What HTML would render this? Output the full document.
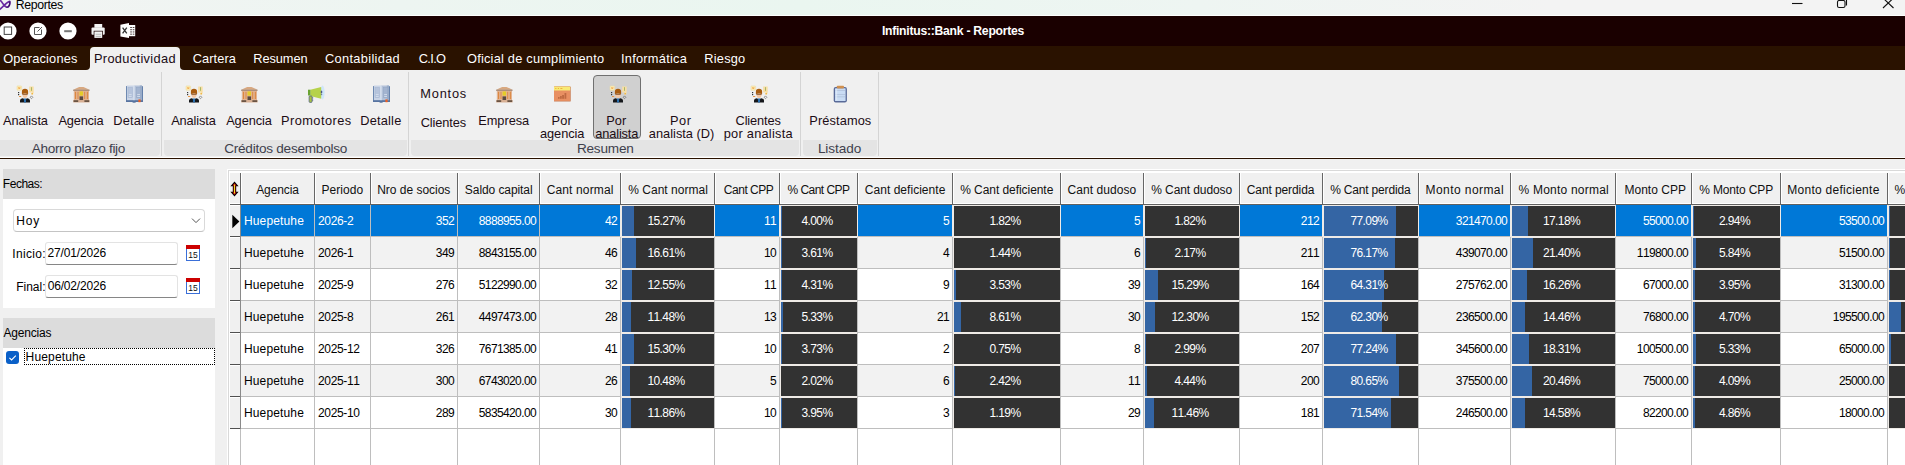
<!DOCTYPE html>
<html lang="es"><head><meta charset="utf-8"><title>Reportes</title>
<style>
html,body{margin:0;padding:0}
body{width:1905px;height:465px;overflow:hidden;background:#f0f0f0;font-family:"Liberation Sans",sans-serif;font-size:12px;color:#000;position:relative}
div,span,svg{position:absolute;box-sizing:border-box}
.t{white-space:nowrap;font-kerning:none;line-height:16px;height:16px}
.c{text-align:center}
.r{text-align:right}
/* title */
#titlebar{left:0;top:0;width:1905px;height:16px;background:linear-gradient(90deg,#f2f4f3 0,#edf5f1 400px,#eaf6f0 800px,#eef5f2 1200px,#f3f3f3 1550px)}
#titleline{left:0;top:15px;width:1905px;height:1px;background:#fdfffe}
#darkbar{left:0;top:16px;width:1905px;height:30px;background:#1a0000}
#tabbar{left:0;top:46px;width:1905px;height:24px;background:#2a1200}
.tab{font-size:13.3px;color:#fff;top:50px}
#activetab{left:90px;top:47px;width:90px;height:23px;background:#f0f0f0;border-radius:4px 4px 0 0}
.tabc{width:4px;height:4px;top:66px;background:#f0f0f0}
.tabc i{position:absolute;left:0;top:0;width:4px;height:4px;background:#2a1200;display:block}
/* ribbon */
#ribbon{left:0;top:70px;width:1905px;height:87px;background:#f0f0f0}
.band{top:140px;height:16px;background:#e4e4e4;border-radius:0 0 4px 4px}
.gl{top:140px;font-size:13.3px;color:#444;}
.vsep{top:72px;width:1px;height:84px;background:#d4d4d4}
.rb{font-size:13.3px;color:#1a0a14}
#ribline1{left:0;top:157px;width:1905px;height:1px;background:#fff}
#ribline2{left:0;top:158px;width:1905px;height:1px;background:#2a1200}
#selbtn{left:593px;top:75px;width:48px;height:64px;background:#d0d0d0;border:1px solid #707070;border-radius:4px}
/* left panel */
.hdr{left:3px;width:212px;background:#dcdcdc}
.white{left:3px;width:212px;background:#fff}
.inp{background:#fff;border:1px solid #e3e3e3;border-bottom:1px solid #868686;border-radius:3px}
/* grid */
#grid{left:228px;top:170px;width:1677px;height:295px;background:#fff;overflow:hidden}
.hc{top:1px;height:34px;background:#f0f0f0}
.hv{top:3px;width:1px;height:32px;background:#666}
.hw{top:3px;width:1px;height:31px;background:#fff}
.ht{top:12px;font-size:12px;color:#101010}
.vl{top:35px;width:1px;height:260px;background:#bebebe}
.hl{left:13px;height:1px;width:1664px;background:#bebebe}
.rowbg{left:13px;width:1664px;height:31px}
.n{letter-spacing:-0.62px}
.cell{font-kerning:none;font-size:12px;line-height:16px;height:16px;white-space:nowrap}
.pg{height:32px;background:#efebe7}
.pb{background:#323232;height:30px;overflow:hidden}
.pf{left:0;top:0;height:30px;background:#3465a4}
.pt{letter-spacing:-0.62px;font-kerning:none;left:-2px;top:7px;width:100%;text-align:center;color:#fff;font-size:12px;line-height:16px;white-space:nowrap}
.rh{left:1px;width:11px;background:#f0f0f0;border-left:1px solid #fff;border-top:1px solid #fff}
</style></head>
<body>
<div id="titlebar"></div><div id="titleline"></div>
<svg style="left:0;top:0" width="12" height="12" viewBox="0 0 12 12"><path d="M-1 -0.5C2 0.5 3.6 6.6 6.6 7.2C9.4 7.6 10.2 3.6 9.7 1.3C6.6 1.8 3.4 6.4 -1 10" fill="none" stroke="#6a2aa2" stroke-width="1.7" stroke-linejoin="round"/><path d="M9.7 1.3C10.2 3.6 9.4 7.6 6.6 7.2" fill="none" stroke="#3d1466" stroke-width="1.2"/></svg>
<span class="t " style="left:15.69px;top:-3px;font-size:12.3px;letter-spacing:-0.351px;color:#000">Reportes</span>
<svg style="left:1785px;top:0" width="120" height="12" viewBox="0 0 120 12" fill="none" stroke="#111" stroke-width="1.1"><path d="M7 3.5H17.5"/><rect x="52.5" y="0.5" width="7.5" height="7" rx="1.6"/><path d="M55 -1H60Q61.5 -1 61.5 0.5V5.5"/><path d="M98 -2L108.5 8M108.5 -2L98 8"/></svg>
<div id="darkbar"></div>
<svg style="left:0;top:20px" width="140" height="22" viewBox="0 20 140 22">
<circle cx="8" cy="31" r="8.6" fill="#fff"/><rect x="4.2" y="27" width="7.4" height="7.4" fill="none" stroke="#444" stroke-width="1"/>
<circle cx="38" cy="31" r="8.6" fill="#fff"/><path d="M39.5 27.5H34.5V34.5H41.5V29.5" fill="none" stroke="#555" stroke-width="1"/><path d="M37.5 31.5L42 27" stroke="#555" stroke-width="1"/>
<circle cx="68" cy="31" r="8.6" fill="#fff"/><rect x="64.2" y="30.2" width="7.6" height="2" fill="#777"/>
<rect x="94.4" y="24" width="7.8" height="3.8" fill="#f4f4f4"/><rect x="91.5" y="27.6" width="13.2" height="7.2" rx="1" fill="#f2f2f2"/><rect x="93.7" y="30.8" width="9.2" height="4.2" fill="#1a0000"/><rect x="94.4" y="31.5" width="7.8" height="6.4" fill="#f4f4f4"/><rect x="95.6" y="33.8" width="5.5" height="0.8" fill="#aaa"/><rect x="95.6" y="35.9" width="5.5" height="0.8" fill="#aaa"/>
<path d="M120.4 24.7L129 23V37.9L120.4 36.5Z" fill="#fff"/><rect x="129" y="25" width="6.2" height="11.2" fill="#fff"/><g fill="#3a2828"><rect x="130.2" y="27.1" width="1.7" height="0.9"/><rect x="132.7" y="27.1" width="1.7" height="0.9"/><rect x="130.2" y="29.3" width="1.7" height="0.9"/><rect x="132.7" y="29.3" width="1.7" height="0.9"/><rect x="130.2" y="31.5" width="1.7" height="0.9"/><rect x="132.7" y="31.5" width="1.7" height="0.9"/><rect x="130.2" y="33.7" width="1.7" height="0.9"/><rect x="132.7" y="33.7" width="1.7" height="0.9"/></g><path d="M122.6 27.6L126.8 33.4M126.8 27.6L122.6 33.4" stroke="#333" stroke-width="1.3"/>
</svg>
<span class="t " style="left:881.88px;top:23px;font-size:12.2px;letter-spacing:-0.260px;color:#fff;font-weight:bold">Infinitus::Bank - Reportes</span>
<div id="tabbar"></div><div id="activetab"></div>
<div class="tabc" style="left:86px"><i style="border-radius:0 0 4px 0"></i></div><div class="tabc" style="left:180px"><i style="border-radius:0 0 0 4px"></i></div>
<span class="t " style="left:3.19px;top:51px;font-size:12.8px;letter-spacing:0.159px;color:#fff">Operaciones</span>
<span class="t " style="left:93.95px;top:51px;font-size:12.8px;letter-spacing:0.335px;color:#1a0a14">Productividad</span>
<span class="t " style="left:192.75px;top:51px;font-size:12.8px;letter-spacing:0.078px;color:#fff">Cartera</span>
<span class="t " style="left:253.25px;top:51px;font-size:12.8px;letter-spacing:-0.067px;color:#fff">Resumen</span>
<span class="t " style="left:325.05px;top:51px;font-size:12.8px;letter-spacing:0.319px;color:#fff">Contabilidad</span>
<span class="t " style="left:418.75px;top:51px;font-size:12.8px;letter-spacing:-0.652px;color:#fff">C.I.O</span>
<span class="t " style="left:466.99px;top:51px;font-size:12.8px;letter-spacing:0.219px;color:#fff">Oficial de cumplimiento</span>
<span class="t " style="left:621.02px;top:51px;font-size:12.8px;letter-spacing:0.247px;color:#fff">Informática</span>
<span class="t " style="left:704.35px;top:51px;font-size:12.8px;letter-spacing:0.209px;color:#fff">Riesgo</span>
<div id="ribbon"></div>
<div class="band" style="left:-4px;width:164px"></div><span class="t " style="left:31.77px;top:141px;font-size:13.6px;letter-spacing:-0.286px;color:#40404c">Ahorro plazo fijo</span>
<div class="band" style="left:164px;width:243px"></div><span class="t " style="left:224.21px;top:141px;font-size:13.6px;letter-spacing:-0.255px;color:#40404c">Créditos desembolso</span>
<div class="band" style="left:411px;width:388px"></div><span class="t " style="left:576.88px;top:141px;font-size:13.6px;letter-spacing:-0.201px;color:#40404c">Resumen</span>
<div class="band" style="left:803px;width:74px"></div><span class="t " style="left:817.88px;top:141px;font-size:13.6px;letter-spacing:-0.078px;color:#40404c">Listado</span>
<div class="vsep" style="left:161px"></div><div class="vsep" style="left:408px"></div><div class="vsep" style="left:800px"></div><div class="vsep" style="left:878px"></div>
<div id="selbtn"></div>
<div id="ribline1"></div><div id="ribline2"></div>
<svg style="left:16px;top:85px" width="20" height="18" viewBox="0 0 20 18">
<rect x="1" y="0.9" width="4.6" height="4.4" rx="0.6" fill="#fbeab4" stroke="#ecdca0" stroke-width="0.5"/><path d="M2.4 2.2L4.2 4M4.2 2.2L2.4 4" stroke="#f0a040" stroke-width="0.8"/>
<path d="M13.2 1.4H17.7V7.4L17 9.6H15.4L16 7.4H13.2Z" fill="#f8dea4"/><rect x="15" y="2.2" width="1" height="3.6" fill="#a8b868"/><rect x="15.4" y="8" width="1.6" height="1.4" fill="#f0b848"/>
<rect x="2" y="7" width="1.2" height="1.2" fill="#333"/><rect x="2" y="9" width="1.2" height="1.2" fill="#333"/><rect x="3" y="11" width="2.2" height="0.9" fill="#e89038"/>
<path d="M6.5 8.6H11.5V10.6Q11.5 13 9 13Q6.5 13 6.5 10.6Z" fill="#f5c8a4"/>
<path d="M5.9 9V6.4Q5.9 3.7 9 3.7Q12.1 3.7 12.1 6.4V9Q9 8 5.9 9Z" fill="#a85c10"/>
<path d="M6.3 9.4H11.7" stroke="#6a3a10" stroke-width="0.7"/>
<path d="M4 17.4V15.6Q4 13.6 6.6 13.2L9 14.2L11.4 13.2Q14 13.6 14 15.6V17.4Z" fill="#15171a"/>
<path d="M7.8 13.6H10.2L9.9 17.4H8.1Z" fill="#2a70b0"/>
<path d="M15.5 10.9L16.9 12.3L15.5 13.7L14.1 12.3Z" fill="none" stroke="#555" stroke-width="0.6"/>
</svg>
<span class="t " style="left:3.08px;top:113px;font-size:12.8px;letter-spacing:-0.088px;color:#1c0c14">Analista</span>
<svg style="left:73px;top:85px" width="18" height="18" viewBox="0 0 18 18">
<path d="M6.1 1.9H10.5L16.5 4.7H0.2Z" fill="#d8a880"/><rect x="0.2" y="4.7" width="16.3" height="1.1" fill="#8f6f58"/>
<rect x="0.8" y="5.8" width="15.2" height="9.2" fill="#e2b494"/>
<g fill="#dc8840"><rect x="2" y="6.8" width="1.1" height="7.2"/><rect x="4.5" y="6.8" width="1" height="7.2"/><rect x="11.2" y="6.8" width="1" height="7.2"/><rect x="13.8" y="6.8" width="1.1" height="7.2"/></g>
<rect x="6.5" y="6.4" width="3.6" height="4.2" fill="#e4cc28"/><rect x="6.5" y="11.4" width="3.6" height="3.6" fill="#5a4a40"/>
<rect x="0.2" y="15" width="16.4" height="2.4" rx="0.5" fill="#d8b094"/><rect x="0.6" y="15.2" width="4.6" height="1.8" fill="#6a5444"/><rect x="11.4" y="15.2" width="4.8" height="1.8" fill="#6a5444"/>
</svg>
<span class="t " style="left:58.38px;top:113px;font-size:12.8px;letter-spacing:-0.172px;color:#1c0c14">Agencia</span>
<svg style="left:126px;top:85px" width="18" height="18" viewBox="0 0 18 18">
<rect x="-0.1" y="1" width="17.1" height="15.9" rx="0.8" fill="#6480ab"/>
<rect x="0.9" y="0.5" width="7.1" height="14.9" fill="#c9d4e6"/><rect x="8" y="0.5" width="8" height="14.9" fill="#b2c0d8"/><rect x="13.8" y="0.5" width="2.2" height="14.9" fill="#9aadc9"/>
<rect x="7.5" y="0.5" width="1.1" height="15.2" fill="#dde5f1"/>
<rect x="2" y="2.4" width="4.4" height="10.2" fill="#b6c4dc" stroke="#a3b4d0" stroke-width="0.5"/><rect x="10.4" y="2.4" width="4.4" height="10.2" fill="#a3b4d0" stroke="#91a5c4" stroke-width="0.5"/>
<g fill="#d8e1ef"><rect x="2.8" y="9" width="2.8" height="0.8"/><rect x="2.8" y="11" width="2.8" height="0.8"/><rect x="11.2" y="9" width="2.8" height="0.8"/><rect x="11.2" y="11" width="2.8" height="0.8"/></g>
<rect x="-0.1" y="15.4" width="17.1" height="1.5" fill="#56729f"/><rect x="6.6" y="16.6" width="3" height="1.1" fill="#56729f"/>
<rect x="12.4" y="14.4" width="2.2" height="2.8" fill="#f06020"/>
</svg>
<span class="t " style="left:113.25px;top:113px;font-size:12.8px;letter-spacing:0.196px;color:#1c0c14">Detalle</span>
<svg style="left:185px;top:85px" width="20" height="18" viewBox="0 0 20 18">
<rect x="1" y="0.9" width="4.6" height="4.4" rx="0.6" fill="#fbeab4" stroke="#ecdca0" stroke-width="0.5"/><path d="M2.4 2.2L4.2 4M4.2 2.2L2.4 4" stroke="#f0a040" stroke-width="0.8"/>
<path d="M13.2 1.4H17.7V7.4L17 9.6H15.4L16 7.4H13.2Z" fill="#f8dea4"/><rect x="15" y="2.2" width="1" height="3.6" fill="#a8b868"/><rect x="15.4" y="8" width="1.6" height="1.4" fill="#f0b848"/>
<rect x="2" y="7" width="1.2" height="1.2" fill="#333"/><rect x="2" y="9" width="1.2" height="1.2" fill="#333"/><rect x="3" y="11" width="2.2" height="0.9" fill="#e89038"/>
<path d="M6.5 8.6H11.5V10.6Q11.5 13 9 13Q6.5 13 6.5 10.6Z" fill="#f5c8a4"/>
<path d="M5.9 9V6.4Q5.9 3.7 9 3.7Q12.1 3.7 12.1 6.4V9Q9 8 5.9 9Z" fill="#a85c10"/>
<path d="M6.3 9.4H11.7" stroke="#6a3a10" stroke-width="0.7"/>
<path d="M4 17.4V15.6Q4 13.6 6.6 13.2L9 14.2L11.4 13.2Q14 13.6 14 15.6V17.4Z" fill="#15171a"/>
<path d="M7.8 13.6H10.2L9.9 17.4H8.1Z" fill="#2a70b0"/>
<path d="M15.5 10.9L16.9 12.3L15.5 13.7L14.1 12.3Z" fill="none" stroke="#555" stroke-width="0.6"/>
</svg>
<span class="t " style="left:171.17px;top:113px;font-size:12.8px;letter-spacing:-0.130px;color:#1c0c14">Analista</span>
<svg style="left:241px;top:85px" width="18" height="18" viewBox="0 0 18 18">
<path d="M6.1 1.9H10.5L16.5 4.7H0.2Z" fill="#d8a880"/><rect x="0.2" y="4.7" width="16.3" height="1.1" fill="#8f6f58"/>
<rect x="0.8" y="5.8" width="15.2" height="9.2" fill="#e2b494"/>
<g fill="#dc8840"><rect x="2" y="6.8" width="1.1" height="7.2"/><rect x="4.5" y="6.8" width="1" height="7.2"/><rect x="11.2" y="6.8" width="1" height="7.2"/><rect x="13.8" y="6.8" width="1.1" height="7.2"/></g>
<rect x="6.5" y="6.4" width="3.6" height="4.2" fill="#e4cc28"/><rect x="6.5" y="11.4" width="3.6" height="3.6" fill="#5a4a40"/>
<rect x="0.2" y="15" width="16.4" height="2.4" rx="0.5" fill="#d8b094"/><rect x="0.6" y="15.2" width="4.6" height="1.8" fill="#6a5444"/><rect x="11.4" y="15.2" width="4.8" height="1.8" fill="#6a5444"/>
</svg>
<span class="t " style="left:226.17px;top:113px;font-size:12.8px;letter-spacing:-0.089px;color:#1c0c14">Agencia</span>
<svg style="left:307px;top:85px" width="19" height="18" viewBox="0 0 19 18">
<ellipse cx="15.5" cy="7.6" rx="2.1" ry="7" fill="#cfe6fa"/>
<path d="M3.3 4.7L14.2 1.9V13.8L3.3 11Z" fill="#b6d24a"/><rect x="1" y="4.7" width="2.4" height="5.8" fill="#6aa432"/>
<rect x="2.1" y="11" width="3" height="6.4" rx="0.8" fill="#a8c244" stroke="#4a5a84" stroke-width="0.7"/><rect x="5.2" y="12.4" width="1" height="1" fill="#4a5a84"/><rect x="5.2" y="14.6" width="1" height="1" fill="#4a5a84"/>
<ellipse cx="14.5" cy="7" rx="0.8" ry="1.5" fill="#4a5a84"/><rect x="13.8" y="9.3" width="1.4" height="0.8" fill="#4a5a84"/>
</svg>
<span class="t " style="left:280.95px;top:113px;font-size:12.8px;letter-spacing:0.451px;color:#1c0c14">Promotores</span>
<svg style="left:373px;top:85px" width="18" height="18" viewBox="0 0 18 18">
<rect x="-0.1" y="1" width="17.1" height="15.9" rx="0.8" fill="#6480ab"/>
<rect x="0.9" y="0.5" width="7.1" height="14.9" fill="#c9d4e6"/><rect x="8" y="0.5" width="8" height="14.9" fill="#b2c0d8"/><rect x="13.8" y="0.5" width="2.2" height="14.9" fill="#9aadc9"/>
<rect x="7.5" y="0.5" width="1.1" height="15.2" fill="#dde5f1"/>
<rect x="2" y="2.4" width="4.4" height="10.2" fill="#b6c4dc" stroke="#a3b4d0" stroke-width="0.5"/><rect x="10.4" y="2.4" width="4.4" height="10.2" fill="#a3b4d0" stroke="#91a5c4" stroke-width="0.5"/>
<g fill="#d8e1ef"><rect x="2.8" y="9" width="2.8" height="0.8"/><rect x="2.8" y="11" width="2.8" height="0.8"/><rect x="11.2" y="9" width="2.8" height="0.8"/><rect x="11.2" y="11" width="2.8" height="0.8"/></g>
<rect x="-0.1" y="15.4" width="17.1" height="1.5" fill="#56729f"/><rect x="6.6" y="16.6" width="3" height="1.1" fill="#56729f"/>
<rect x="12.4" y="14.4" width="2.2" height="2.8" fill="#f06020"/>
</svg>
<span class="t " style="left:360.35px;top:113px;font-size:12.8px;letter-spacing:0.179px;color:#1c0c14">Detalle</span>
<svg style="left:496px;top:85px" width="18" height="18" viewBox="0 0 18 18">
<path d="M6.1 1.9H10.5L16.5 4.7H0.2Z" fill="#d8a880"/><rect x="0.2" y="4.7" width="16.3" height="1.1" fill="#8f6f58"/>
<rect x="0.8" y="5.8" width="15.2" height="9.2" fill="#e2b494"/>
<g fill="#dc8840"><rect x="2" y="6.8" width="1.1" height="7.2"/><rect x="4.5" y="6.8" width="1" height="7.2"/><rect x="11.2" y="6.8" width="1" height="7.2"/><rect x="13.8" y="6.8" width="1.1" height="7.2"/></g>
<rect x="6.5" y="6.4" width="3.6" height="4.2" fill="#e4cc28"/><rect x="6.5" y="11.4" width="3.6" height="3.6" fill="#5a4a40"/>
<rect x="0.2" y="15" width="16.4" height="2.4" rx="0.5" fill="#d8b094"/><rect x="0.6" y="15.2" width="4.6" height="1.8" fill="#6a5444"/><rect x="11.4" y="15.2" width="4.8" height="1.8" fill="#6a5444"/>
</svg>
<span class="t " style="left:478.25px;top:113px;font-size:12.8px;letter-spacing:-0.045px;color:#1c0c14">Empresa</span>
<svg style="left:554px;top:85px" width="18" height="18" viewBox="0 0 18 18">
<rect x="0" y="1.6" width="16.7" height="15" rx="0.6" fill="#c47a54"/><rect x="0" y="1.6" width="16.1" height="14.3" fill="#e88f62"/><rect x="0" y="1.6" width="16.2" height="3.9" fill="#f8ea74"/>
<g fill="#f0b040"><rect x="1.2" y="3" width="1.2" height="1"/><rect x="3.8" y="3" width="1.2" height="1"/><rect x="6.4" y="3" width="2" height="1"/></g>
<g fill="#bf6a42"><rect x="4" y="12" width="1.6" height="1.8"/><rect x="6" y="11" width="1.8" height="2.8"/><rect x="8.1" y="10" width="1.9" height="3.8"/><rect x="10.5" y="8" width="1.8" height="5.8"/></g>
</svg>
<span class="t " style="left:551.55px;top:113px;font-size:12.8px;letter-spacing:0.172px;color:#1c0c14">Por</span><span class="t " style="left:539.96px;top:126px;font-size:12.8px;letter-spacing:-0.049px;color:#1c0c14">agencia</span>
<svg style="left:609px;top:85px" width="20" height="18" viewBox="0 0 20 18">
<rect x="1" y="0.9" width="4.6" height="4.4" rx="0.6" fill="#fbeab4" stroke="#ecdca0" stroke-width="0.5"/><path d="M2.4 2.2L4.2 4M4.2 2.2L2.4 4" stroke="#f0a040" stroke-width="0.8"/>
<path d="M13.2 1.4H17.7V7.4L17 9.6H15.4L16 7.4H13.2Z" fill="#f8dea4"/><rect x="15" y="2.2" width="1" height="3.6" fill="#a8b868"/><rect x="15.4" y="8" width="1.6" height="1.4" fill="#f0b848"/>
<rect x="2" y="7" width="1.2" height="1.2" fill="#333"/><rect x="2" y="9" width="1.2" height="1.2" fill="#333"/><rect x="3" y="11" width="2.2" height="0.9" fill="#e89038"/>
<path d="M6.5 8.6H11.5V10.6Q11.5 13 9 13Q6.5 13 6.5 10.6Z" fill="#f5c8a4"/>
<path d="M5.9 9V6.4Q5.9 3.7 9 3.7Q12.1 3.7 12.1 6.4V9Q9 8 5.9 9Z" fill="#a85c10"/>
<path d="M6.3 9.4H11.7" stroke="#6a3a10" stroke-width="0.7"/>
<path d="M4 17.4V15.6Q4 13.6 6.6 13.2L9 14.2L11.4 13.2Q14 13.6 14 15.6V17.4Z" fill="#15171a"/>
<path d="M7.8 13.6H10.2L9.9 17.4H8.1Z" fill="#2a70b0"/>
<path d="M15.5 10.9L16.9 12.3L15.5 13.7L14.1 12.3Z" fill="none" stroke="#555" stroke-width="0.6"/>
</svg>
<span class="t " style="left:606.35px;top:113px;font-size:12.8px;letter-spacing:-0.028px;color:#1c0c14">Por</span><span class="t " style="left:595.26px;top:126px;font-size:12.8px;letter-spacing:-0.139px;color:#1c0c14">analista</span>
<span class="t " style="left:669.95px;top:113px;font-size:12.8px;letter-spacing:0.522px;color:#1c0c14">Por</span><span class="t " style="left:648.76px;top:126px;font-size:12.8px;letter-spacing:0.018px;color:#1c0c14">analista (D)</span>
<svg style="left:750px;top:85px" width="20" height="18" viewBox="0 0 20 18">
<rect x="1" y="0.9" width="4.6" height="4.4" rx="0.6" fill="#fbeab4" stroke="#ecdca0" stroke-width="0.5"/><path d="M2.4 2.2L4.2 4M4.2 2.2L2.4 4" stroke="#f0a040" stroke-width="0.8"/>
<path d="M13.2 1.4H17.7V7.4L17 9.6H15.4L16 7.4H13.2Z" fill="#f8dea4"/><rect x="15" y="2.2" width="1" height="3.6" fill="#a8b868"/><rect x="15.4" y="8" width="1.6" height="1.4" fill="#f0b848"/>
<rect x="2" y="7" width="1.2" height="1.2" fill="#333"/><rect x="2" y="9" width="1.2" height="1.2" fill="#333"/><rect x="3" y="11" width="2.2" height="0.9" fill="#e89038"/>
<path d="M6.5 8.6H11.5V10.6Q11.5 13 9 13Q6.5 13 6.5 10.6Z" fill="#f5c8a4"/>
<path d="M5.9 9V6.4Q5.9 3.7 9 3.7Q12.1 3.7 12.1 6.4V9Q9 8 5.9 9Z" fill="#a85c10"/>
<path d="M6.3 9.4H11.7" stroke="#6a3a10" stroke-width="0.7"/>
<path d="M4 17.4V15.6Q4 13.6 6.6 13.2L9 14.2L11.4 13.2Q14 13.6 14 15.6V17.4Z" fill="#15171a"/>
<path d="M7.8 13.6H10.2L9.9 17.4H8.1Z" fill="#2a70b0"/>
<path d="M15.5 10.9L16.9 12.3L15.5 13.7L14.1 12.3Z" fill="none" stroke="#555" stroke-width="0.6"/>
</svg>
<span class="t " style="left:735.55px;top:113px;font-size:12.8px;letter-spacing:-0.133px;color:#1c0c14">Clientes</span><span class="t " style="left:723.77px;top:126px;font-size:12.8px;letter-spacing:0.241px;color:#1c0c14">por analista</span>
<svg style="left:833px;top:85px" width="15" height="18" viewBox="0 0 15 18">
<rect x="0.7" y="1.9" width="13.2" height="15.5" rx="2" fill="#596a98"/><rect x="2" y="3.2" width="10.6" height="12.8" rx="0.6" fill="#c9dcf4"/>
<rect x="3.8" y="0.8" width="7.2" height="2.6" rx="0.8" fill="#cf9050"/>
<g fill="#a9b9d3"><rect x="2.6" y="5.3" width="9.4" height="0.6"/><rect x="2.6" y="9.1" width="9.4" height="0.6"/><rect x="2.6" y="11.6" width="9.4" height="0.6"/></g><rect x="3.4" y="4" width="0.7" height="11.4" fill="#e6effb"/>
</svg>
<span class="t " style="left:809.35px;top:113px;font-size:12.8px;letter-spacing:0.092px;color:#1c0c14">Préstamos</span>
<span class="t " style="left:420.25px;top:86px;font-size:12.8px;letter-spacing:0.807px;color:#1c0c14">Montos</span><span class="t " style="left:420.65px;top:115px;font-size:12.8px;letter-spacing:-0.090px;color:#1c0c14">Clientes</span>
<div class="hdr" style="top:169px;height:30px"></div><div class="white" style="top:199px;height:109px"></div>
<span class="t " style="left:2.82px;top:176px;font-size:12px;letter-spacing:-0.468px;color:#000">Fechas:</span>
<div class="inp" style="left:13px;top:209px;width:192px;height:23px;border-color:#d9d9d9;border-bottom-color:#c4c4c4;border-radius:4px"></div><span class="t " style="left:16.22px;top:213px;font-size:12px;letter-spacing:0.834px;color:#000">Hoy</span>
<svg style="left:190px;top:216px" width="12" height="9" viewBox="0 0 12 9"><path d="M2 2.6L6 6.6L10 2.6" fill="none" stroke="#555" stroke-width="1"/></svg>
<span class="t " style="left:12.29px;top:246px;font-size:12px;letter-spacing:0.309px;color:#000">Inicio:</span><div class="inp" style="left:45px;top:242px;width:133px;height:23px"></div><span class="t " style="left:47.50px;top:245px;font-size:12px;letter-spacing:-0.148px;color:#000">27/01/2026</span><svg style="left:186px;top:245px" width="14" height="16" viewBox="0 0 14 16"><rect x="0.5" y="0.5" width="13" height="15" fill="#fff" stroke="#3a6fd8"/><rect x="0" y="0" width="14" height="4" fill="#c00"/><text x="7" y="13" font-family="Liberation Sans, sans-serif" font-size="8.5" text-anchor="middle" fill="#111">15</text></svg>
<span class="t " style="left:16.22px;top:279px;font-size:12px;letter-spacing:-0.013px;color:#000">Final:</span><div class="inp" style="left:45px;top:275px;width:133px;height:23px"></div><span class="t " style="left:47.63px;top:278px;font-size:12px;letter-spacing:-0.162px;color:#000">06/02/2026</span><svg style="left:186px;top:278px" width="14" height="16" viewBox="0 0 14 16"><rect x="0.5" y="0.5" width="13" height="15" fill="#fff" stroke="#3a6fd8"/><rect x="0" y="0" width="14" height="4" fill="#c00"/><text x="7" y="13" font-family="Liberation Sans, sans-serif" font-size="8.5" text-anchor="middle" fill="#111">15</text></svg>
<div class="hdr" style="top:318px;height:30px"></div><div class="white" style="top:348px;height:117px"></div>
<span class="t " style="left:3.38px;top:325px;font-size:12px;letter-spacing:-0.187px;color:#000">Agencias</span>
<svg style="left:6px;top:351px" width="13" height="13" viewBox="0 0 13 13"><rect width="13" height="13" rx="3" fill="#0a60c8"/><path d="M3.4 6.8L5.6 9L9.8 4.6" fill="none" stroke="#fff" stroke-width="1.1"/></svg>
<div style="left:24px;top:348px;width:191px;height:17px;border:1px dotted #000"></div><span class="t " style="left:25.62px;top:349px;font-size:12px;letter-spacing:0.150px;color:#000">Huepetuhe</span>
<div style="left:227px;top:169px;width:1678px;height:1px;background:#fff"></div><div style="left:227px;top:169px;width:1px;height:296px;background:#fff"></div>
<div id="grid">
<div class="hc" style="left:1px;width:1676px"></div>
<div style="left:1px;top:1px;width:1676px;height:2px;background:#fff"></div><div style="left:1px;top:33px;width:1676px;height:1px;background:#fff"></div><div class="hv" style="left:12px"></div><div class="hw" style="left:13px"></div><div class="hv" style="left:86px"></div><div class="hw" style="left:87px"></div><div class="hv" style="left:142px"></div><div class="hw" style="left:143px"></div><div class="hv" style="left:229px"></div><div class="hw" style="left:230px"></div><div class="hv" style="left:311px"></div><div class="hw" style="left:312px"></div><div class="hv" style="left:392px"></div><div class="hw" style="left:393px"></div><div class="hv" style="left:486px"></div><div class="hw" style="left:487px"></div><div class="hv" style="left:551px"></div><div class="hw" style="left:552px"></div><div class="hv" style="left:629px"></div><div class="hw" style="left:630px"></div><div class="hv" style="left:724px"></div><div class="hw" style="left:725px"></div><div class="hv" style="left:832px"></div><div class="hw" style="left:833px"></div><div class="hv" style="left:915px"></div><div class="hw" style="left:916px"></div><div class="hv" style="left:1011px"></div><div class="hw" style="left:1012px"></div><div class="hv" style="left:1094px"></div><div class="hw" style="left:1095px"></div><div class="hv" style="left:1190px"></div><div class="hw" style="left:1191px"></div><div class="hv" style="left:1282px"></div><div class="hw" style="left:1283px"></div><div class="hv" style="left:1387px"></div><div class="hw" style="left:1388px"></div><div class="hv" style="left:1463px"></div><div class="hw" style="left:1464px"></div><div class="hv" style="left:1552px"></div><div class="hw" style="left:1553px"></div><div class="hv" style="left:1659px"></div><div class="hw" style="left:1660px"></div><div class="hv" style="left:1775px"></div><div class="hw" style="left:1776px"></div>
<div style="left:1px;top:34px;width:1676px;height:1px;background:#606060"></div>
<svg style="left:2px;top:11px" width="9" height="16" viewBox="0 0 9 16"><path d="M4.5 0.4L8.6 5.2H6.2V10.8H8.6L4.5 15.6L0.4 10.8H2.8V5.2H0.4Z" fill="#000"/><path d="M4.5 2.2L6.6 4.6H5.4V11.4H6.6L4.5 13.8L2.4 11.4H3.6V4.6H2.4Z" fill="#d01010"/><rect x="4" y="3.6" width="1" height="8.8" fill="#f0e020"/></svg>
<span class="t " style="left:28.18px;top:12px;font-size:12px;letter-spacing:-0.090px;color:#101010">Agencia</span><span class="t " style="left:93.52px;top:12px;font-size:12px;letter-spacing:0.054px;color:#101010">Periodo</span><span class="t " style="left:149.22px;top:12px;font-size:12px;letter-spacing:-0.021px;color:#101010">Nro de socios</span><span class="t " style="left:236.86px;top:12px;font-size:12px;letter-spacing:-0.080px;color:#101010">Saldo capital</span><span class="t " style="left:318.69px;top:12px;font-size:12px;letter-spacing:0.135px;color:#101010">Cant normal</span><span class="t " style="left:400.27px;top:12px;font-size:12px;letter-spacing:0.014px;color:#101010">% Cant normal</span><span class="t " style="left:495.79px;top:12px;font-size:12px;letter-spacing:-0.473px;color:#101010">Cant CPP</span><span class="t " style="left:559.47px;top:12px;font-size:12px;letter-spacing:-0.533px;color:#101010">% Cant CPP</span><span class="t " style="left:636.79px;top:12px;font-size:12px;letter-spacing:0.035px;color:#101010">Cant deficiente</span><span class="t " style="left:732.17px;top:12px;font-size:12px;letter-spacing:-0.056px;color:#101010">% Cant deficiente</span><span class="t " style="left:839.59px;top:12px;font-size:12px;letter-spacing:0.056px;color:#101010">Cant dudoso</span><span class="t " style="left:923.27px;top:12px;font-size:12px;letter-spacing:-0.094px;color:#101010">% Cant dudoso</span><span class="t " style="left:1018.79px;top:12px;font-size:12px;letter-spacing:-0.100px;color:#101010">Cant perdida</span><span class="t " style="left:1102.17px;top:12px;font-size:12px;letter-spacing:-0.176px;color:#101010">% Cant perdida</span><span class="t " style="left:1197.62px;top:12px;font-size:12px;letter-spacing:0.420px;color:#101010">Monto normal</span><span class="t " style="left:1290.57px;top:12px;font-size:12px;letter-spacing:0.212px;color:#101010">% Monto normal</span><span class="t " style="left:1396.42px;top:12px;font-size:12px;letter-spacing:0.032px;color:#101010">Monto CPP</span><span class="t " style="left:1471.17px;top:12px;font-size:12px;letter-spacing:-0.130px;color:#101010">% Monto CPP</span><span class="t " style="left:1559.32px;top:12px;font-size:12px;letter-spacing:0.264px;color:#101010">Monto deficiente</span><span class="t " style="left:1666.57px;top:12px;font-size:12px;letter-spacing:-0.006px;color:#101010">% Monto deficiente</span>
<div class="rowbg" style="top:35px;background:#0078d7"></div><div class="rh" style="top:35px;height:31px"></div><div style="left:1px;top:66px;width:12px;height:1px;background:#505050"></div><div class="hl" style="top:66px"></div>
<span class="cell" style="left:16px;top:43px;color:#fff;letter-spacing:0.14px">Huepetuhe</span><span class="cell" style="left:90px;top:43px;color:#fff;letter-spacing:-0.35px">2026-2</span><span class="cell r n" style="left:143px;top:43px;width:83px;color:#fff">352</span><span class="cell r n" style="left:230px;top:43px;width:78px;color:#fff">8888955.00</span><span class="cell r n" style="left:312px;top:43px;width:77px;color:#fff">42</span><span class="cell r n" style="left:487px;top:43px;width:61px;color:#fff">11</span><span class="cell r n" style="left:630px;top:43px;width:91px;color:#fff">5</span><span class="cell r n" style="left:833px;top:43px;width:79px;color:#fff">5</span><span class="cell r n" style="left:1012px;top:43px;width:79px;color:#fff">212</span><span class="cell r n" style="left:1191px;top:43px;width:88px;color:#fff">321470.00</span><span class="cell r n" style="left:1388px;top:43px;width:72px;color:#fff">55000.00</span><span class="cell r n" style="left:1553px;top:43px;width:103px;color:#fff">53500.00</span>
<div class="rowbg" style="top:67px;background:#f2f2f2"></div><div class="rh" style="top:67px;height:31px"></div><div style="left:1px;top:98px;width:12px;height:1px;background:#505050"></div><div class="hl" style="top:98px"></div>
<span class="cell" style="left:16px;top:75px;color:#000;letter-spacing:0.14px">Huepetuhe</span><span class="cell" style="left:90px;top:75px;color:#000;letter-spacing:-0.35px">2026-1</span><span class="cell r n" style="left:143px;top:75px;width:83px;color:#000">349</span><span class="cell r n" style="left:230px;top:75px;width:78px;color:#000">8843155.00</span><span class="cell r n" style="left:312px;top:75px;width:77px;color:#000">46</span><span class="cell r n" style="left:487px;top:75px;width:61px;color:#000">10</span><span class="cell r n" style="left:630px;top:75px;width:91px;color:#000">4</span><span class="cell r n" style="left:833px;top:75px;width:79px;color:#000">6</span><span class="cell r n" style="left:1012px;top:75px;width:79px;color:#000">211</span><span class="cell r n" style="left:1191px;top:75px;width:88px;color:#000">439070.00</span><span class="cell r n" style="left:1388px;top:75px;width:72px;color:#000">119800.00</span><span class="cell r n" style="left:1553px;top:75px;width:103px;color:#000">51500.00</span>
<div class="rowbg" style="top:99px;background:#fff"></div><div class="rh" style="top:99px;height:31px"></div><div style="left:1px;top:130px;width:12px;height:1px;background:#505050"></div><div class="hl" style="top:130px"></div>
<span class="cell" style="left:16px;top:107px;color:#000;letter-spacing:0.14px">Huepetuhe</span><span class="cell" style="left:90px;top:107px;color:#000;letter-spacing:-0.35px">2025-9</span><span class="cell r n" style="left:143px;top:107px;width:83px;color:#000">276</span><span class="cell r n" style="left:230px;top:107px;width:78px;color:#000">5122990.00</span><span class="cell r n" style="left:312px;top:107px;width:77px;color:#000">32</span><span class="cell r n" style="left:487px;top:107px;width:61px;color:#000">11</span><span class="cell r n" style="left:630px;top:107px;width:91px;color:#000">9</span><span class="cell r n" style="left:833px;top:107px;width:79px;color:#000">39</span><span class="cell r n" style="left:1012px;top:107px;width:79px;color:#000">164</span><span class="cell r n" style="left:1191px;top:107px;width:88px;color:#000">275762.00</span><span class="cell r n" style="left:1388px;top:107px;width:72px;color:#000">67000.00</span><span class="cell r n" style="left:1553px;top:107px;width:103px;color:#000">31300.00</span>
<div class="rowbg" style="top:131px;background:#f2f2f2"></div><div class="rh" style="top:131px;height:31px"></div><div style="left:1px;top:162px;width:12px;height:1px;background:#505050"></div><div class="hl" style="top:162px"></div>
<span class="cell" style="left:16px;top:139px;color:#000;letter-spacing:0.14px">Huepetuhe</span><span class="cell" style="left:90px;top:139px;color:#000;letter-spacing:-0.35px">2025-8</span><span class="cell r n" style="left:143px;top:139px;width:83px;color:#000">261</span><span class="cell r n" style="left:230px;top:139px;width:78px;color:#000">4497473.00</span><span class="cell r n" style="left:312px;top:139px;width:77px;color:#000">28</span><span class="cell r n" style="left:487px;top:139px;width:61px;color:#000">13</span><span class="cell r n" style="left:630px;top:139px;width:91px;color:#000">21</span><span class="cell r n" style="left:833px;top:139px;width:79px;color:#000">30</span><span class="cell r n" style="left:1012px;top:139px;width:79px;color:#000">152</span><span class="cell r n" style="left:1191px;top:139px;width:88px;color:#000">236500.00</span><span class="cell r n" style="left:1388px;top:139px;width:72px;color:#000">76800.00</span><span class="cell r n" style="left:1553px;top:139px;width:103px;color:#000">195500.00</span>
<div class="rowbg" style="top:163px;background:#fff"></div><div class="rh" style="top:163px;height:31px"></div><div style="left:1px;top:194px;width:12px;height:1px;background:#505050"></div><div class="hl" style="top:194px"></div>
<span class="cell" style="left:16px;top:171px;color:#000;letter-spacing:0.14px">Huepetuhe</span><span class="cell" style="left:90px;top:171px;color:#000;letter-spacing:-0.35px">2025-12</span><span class="cell r n" style="left:143px;top:171px;width:83px;color:#000">326</span><span class="cell r n" style="left:230px;top:171px;width:78px;color:#000">7671385.00</span><span class="cell r n" style="left:312px;top:171px;width:77px;color:#000">41</span><span class="cell r n" style="left:487px;top:171px;width:61px;color:#000">10</span><span class="cell r n" style="left:630px;top:171px;width:91px;color:#000">2</span><span class="cell r n" style="left:833px;top:171px;width:79px;color:#000">8</span><span class="cell r n" style="left:1012px;top:171px;width:79px;color:#000">207</span><span class="cell r n" style="left:1191px;top:171px;width:88px;color:#000">345600.00</span><span class="cell r n" style="left:1388px;top:171px;width:72px;color:#000">100500.00</span><span class="cell r n" style="left:1553px;top:171px;width:103px;color:#000">65000.00</span>
<div class="rowbg" style="top:195px;background:#f2f2f2"></div><div class="rh" style="top:195px;height:31px"></div><div style="left:1px;top:226px;width:12px;height:1px;background:#505050"></div><div class="hl" style="top:226px"></div>
<span class="cell" style="left:16px;top:203px;color:#000;letter-spacing:0.14px">Huepetuhe</span><span class="cell" style="left:90px;top:203px;color:#000;letter-spacing:-0.35px">2025-11</span><span class="cell r n" style="left:143px;top:203px;width:83px;color:#000">300</span><span class="cell r n" style="left:230px;top:203px;width:78px;color:#000">6743020.00</span><span class="cell r n" style="left:312px;top:203px;width:77px;color:#000">26</span><span class="cell r n" style="left:487px;top:203px;width:61px;color:#000">5</span><span class="cell r n" style="left:630px;top:203px;width:91px;color:#000">6</span><span class="cell r n" style="left:833px;top:203px;width:79px;color:#000">11</span><span class="cell r n" style="left:1012px;top:203px;width:79px;color:#000">200</span><span class="cell r n" style="left:1191px;top:203px;width:88px;color:#000">375500.00</span><span class="cell r n" style="left:1388px;top:203px;width:72px;color:#000">75000.00</span><span class="cell r n" style="left:1553px;top:203px;width:103px;color:#000">25000.00</span>
<div class="rowbg" style="top:227px;background:#fff"></div><div class="rh" style="top:227px;height:31px"></div><div style="left:1px;top:258px;width:12px;height:1px;background:#505050"></div><div class="hl" style="top:258px"></div>
<span class="cell" style="left:16px;top:235px;color:#000;letter-spacing:0.14px">Huepetuhe</span><span class="cell" style="left:90px;top:235px;color:#000;letter-spacing:-0.35px">2025-10</span><span class="cell r n" style="left:143px;top:235px;width:83px;color:#000">289</span><span class="cell r n" style="left:230px;top:235px;width:78px;color:#000">5835420.00</span><span class="cell r n" style="left:312px;top:235px;width:77px;color:#000">30</span><span class="cell r n" style="left:487px;top:235px;width:61px;color:#000">10</span><span class="cell r n" style="left:630px;top:235px;width:91px;color:#000">3</span><span class="cell r n" style="left:833px;top:235px;width:79px;color:#000">29</span><span class="cell r n" style="left:1012px;top:235px;width:79px;color:#000">181</span><span class="cell r n" style="left:1191px;top:235px;width:88px;color:#000">246500.00</span><span class="cell r n" style="left:1388px;top:235px;width:72px;color:#000">82200.00</span><span class="cell r n" style="left:1553px;top:235px;width:103px;color:#000">18000.00</span>
<div style="left:12px;top:35px;width:1px;height:224px;background:#8a8a8a"></div>
<div class="vl" style="left:12px;top:259px;height:36px"></div><div class="vl" style="left:86px"></div><div class="vl" style="left:142px"></div><div class="vl" style="left:229px"></div><div class="vl" style="left:311px"></div><div class="vl" style="left:392px"></div><div class="vl" style="left:486px"></div><div class="vl" style="left:551px"></div><div class="vl" style="left:629px"></div><div class="vl" style="left:724px"></div><div class="vl" style="left:832px"></div><div class="vl" style="left:915px"></div><div class="vl" style="left:1011px"></div><div class="vl" style="left:1094px"></div><div class="vl" style="left:1190px"></div><div class="vl" style="left:1282px"></div><div class="vl" style="left:1387px"></div><div class="vl" style="left:1463px"></div><div class="vl" style="left:1552px"></div><div class="vl" style="left:1659px"></div><div class="vl" style="left:1775px"></div>
<div class="pg" style="left:392px;top:35px;width:95px"></div><div class="pb" style="left:394px;top:36px;width:92px"><div class="pf" style="width:12.4px"></div><span class="pt">15.27%</span></div><div class="pg" style="left:551px;top:35px;width:79px"></div><div class="pb" style="left:553px;top:36px;width:76px"><div class="pf" style="width:1.1px"></div><span class="pt">4.00%</span></div><div class="pg" style="left:724px;top:35px;width:109px"></div><div class="pb" style="left:726px;top:36px;width:106px"><div class="pf" style="width:0.0px"></div><span class="pt">1.82%</span></div><div class="pg" style="left:915px;top:35px;width:97px"></div><div class="pb" style="left:917px;top:36px;width:94px"><div class="pf" style="width:0.0px"></div><span class="pt">1.82%</span></div><div class="pg" style="left:1094px;top:35px;width:97px"></div><div class="pb" style="left:1096px;top:36px;width:94px"><div class="pf" style="width:72.0px"></div><span class="pt">77.09%</span></div><div class="pg" style="left:1282px;top:35px;width:106px"></div><div class="pb" style="left:1284px;top:36px;width:103px"><div class="pf" style="width:16.0px"></div><span class="pt">17.18%</span></div><div class="pg" style="left:1463px;top:35px;width:90px"></div><div class="pb" style="left:1465px;top:36px;width:87px"><div class="pf" style="width:0.6px"></div><span class="pt">2.94%</span></div><div class="pg" style="left:1659px;top:35px;width:117px"></div><div class="pb" style="left:1661px;top:36px;width:114px"><div class="pf" style="width:1.3px"></div><span class="pt">2.86%</span></div><div class="pg" style="left:393px;top:67px;width:93px"></div><div class="pb" style="left:394px;top:68px;width:92px"><div class="pf" style="width:13.6px"></div><span class="pt">16.61%</span></div><div class="pg" style="left:552px;top:67px;width:77px"></div><div class="pb" style="left:553px;top:68px;width:76px"><div class="pf" style="width:0.8px"></div><span class="pt">3.61%</span></div><div class="pg" style="left:725px;top:67px;width:107px"></div><div class="pb" style="left:726px;top:68px;width:106px"><div class="pf" style="width:0.0px"></div><span class="pt">1.44%</span></div><div class="pg" style="left:916px;top:67px;width:95px"></div><div class="pb" style="left:917px;top:68px;width:94px"><div class="pf" style="width:0.1px"></div><span class="pt">2.17%</span></div><div class="pg" style="left:1095px;top:67px;width:95px"></div><div class="pb" style="left:1096px;top:68px;width:94px"><div class="pf" style="width:71.1px"></div><span class="pt">76.17%</span></div><div class="pg" style="left:1283px;top:67px;width:104px"></div><div class="pb" style="left:1284px;top:68px;width:103px"><div class="pf" style="width:20.5px"></div><span class="pt">21.40%</span></div><div class="pg" style="left:1464px;top:67px;width:88px"></div><div class="pb" style="left:1465px;top:68px;width:87px"><div class="pf" style="width:3.2px"></div><span class="pt">5.84%</span></div><div class="pg" style="left:1660px;top:67px;width:115px"></div><div class="pb" style="left:1661px;top:68px;width:114px"><div class="pf" style="width:0.9px"></div><span class="pt">2.51%</span></div><div class="pg" style="left:393px;top:99px;width:93px"></div><div class="pb" style="left:394px;top:100px;width:92px"><div class="pf" style="width:9.8px"></div><span class="pt">12.55%</span></div><div class="pg" style="left:552px;top:99px;width:77px"></div><div class="pb" style="left:553px;top:100px;width:76px"><div class="pf" style="width:1.4px"></div><span class="pt">4.31%</span></div><div class="pg" style="left:725px;top:99px;width:107px"></div><div class="pb" style="left:726px;top:100px;width:106px"><div class="pf" style="width:1.8px"></div><span class="pt">3.53%</span></div><div class="pg" style="left:916px;top:99px;width:95px"></div><div class="pb" style="left:917px;top:100px;width:94px"><div class="pf" style="width:12.7px"></div><span class="pt">15.29%</span></div><div class="pg" style="left:1095px;top:99px;width:95px"></div><div class="pb" style="left:1096px;top:100px;width:94px"><div class="pf" style="width:59.7px"></div><span class="pt">64.31%</span></div><div class="pg" style="left:1283px;top:99px;width:104px"></div><div class="pb" style="left:1284px;top:100px;width:103px"><div class="pf" style="width:15.1px"></div><span class="pt">16.26%</span></div><div class="pg" style="left:1464px;top:99px;width:88px"></div><div class="pb" style="left:1465px;top:100px;width:87px"><div class="pf" style="width:1.5px"></div><span class="pt">3.95%</span></div><div class="pg" style="left:1660px;top:99px;width:115px"></div><div class="pb" style="left:1661px;top:100px;width:114px"><div class="pf" style="width:0.1px"></div><span class="pt">1.85%</span></div><div class="pg" style="left:393px;top:131px;width:93px"></div><div class="pb" style="left:394px;top:132px;width:92px"><div class="pf" style="width:8.8px"></div><span class="pt">11.48%</span></div><div class="pg" style="left:552px;top:131px;width:77px"></div><div class="pb" style="left:553px;top:132px;width:76px"><div class="pf" style="width:2.2px"></div><span class="pt">5.33%</span></div><div class="pg" style="left:725px;top:131px;width:107px"></div><div class="pb" style="left:726px;top:132px;width:106px"><div class="pf" style="width:7.3px"></div><span class="pt">8.61%</span></div><div class="pg" style="left:916px;top:131px;width:95px"></div><div class="pb" style="left:917px;top:132px;width:94px"><div class="pf" style="width:9.8px"></div><span class="pt">12.30%</span></div><div class="pg" style="left:1095px;top:131px;width:95px"></div><div class="pb" style="left:1096px;top:132px;width:94px"><div class="pf" style="width:57.8px"></div><span class="pt">62.30%</span></div><div class="pg" style="left:1283px;top:131px;width:104px"></div><div class="pb" style="left:1284px;top:132px;width:103px"><div class="pf" style="width:13.2px"></div><span class="pt">14.46%</span></div><div class="pg" style="left:1464px;top:131px;width:88px"></div><div class="pb" style="left:1465px;top:132px;width:87px"><div class="pf" style="width:2.2px"></div><span class="pt">4.70%</span></div><div class="pg" style="left:1660px;top:131px;width:115px"></div><div class="pb" style="left:1661px;top:132px;width:114px"><div class="pf" style="width:11.9px"></div><span class="pt">11.95%</span></div><div class="pg" style="left:393px;top:163px;width:93px"></div><div class="pb" style="left:394px;top:164px;width:92px"><div class="pf" style="width:12.4px"></div><span class="pt">15.30%</span></div><div class="pg" style="left:552px;top:163px;width:77px"></div><div class="pb" style="left:553px;top:164px;width:76px"><div class="pf" style="width:0.9px"></div><span class="pt">3.73%</span></div><div class="pg" style="left:725px;top:163px;width:107px"></div><div class="pb" style="left:726px;top:164px;width:106px"><div class="pf" style="width:0.0px"></div><span class="pt">0.75%</span></div><div class="pg" style="left:916px;top:163px;width:95px"></div><div class="pb" style="left:917px;top:164px;width:94px"><div class="pf" style="width:0.9px"></div><span class="pt">2.99%</span></div><div class="pg" style="left:1095px;top:163px;width:95px"></div><div class="pb" style="left:1096px;top:164px;width:94px"><div class="pf" style="width:72.2px"></div><span class="pt">77.24%</span></div><div class="pg" style="left:1283px;top:163px;width:104px"></div><div class="pb" style="left:1284px;top:164px;width:103px"><div class="pf" style="width:17.2px"></div><span class="pt">18.31%</span></div><div class="pg" style="left:1464px;top:163px;width:88px"></div><div class="pb" style="left:1465px;top:164px;width:87px"><div class="pf" style="width:2.7px"></div><span class="pt">5.33%</span></div><div class="pg" style="left:1660px;top:163px;width:115px"></div><div class="pb" style="left:1661px;top:164px;width:114px"><div class="pf" style="width:2.0px"></div><span class="pt">3.44%</span></div><div class="pg" style="left:393px;top:195px;width:93px"></div><div class="pb" style="left:394px;top:196px;width:92px"><div class="pf" style="width:7.9px"></div><span class="pt">10.48%</span></div><div class="pg" style="left:552px;top:195px;width:77px"></div><div class="pb" style="left:553px;top:196px;width:76px"><div class="pf" style="width:0.0px"></div><span class="pt">2.02%</span></div><div class="pg" style="left:725px;top:195px;width:107px"></div><div class="pb" style="left:726px;top:196px;width:106px"><div class="pf" style="width:0.6px"></div><span class="pt">2.42%</span></div><div class="pg" style="left:916px;top:195px;width:95px"></div><div class="pb" style="left:917px;top:196px;width:94px"><div class="pf" style="width:2.3px"></div><span class="pt">4.44%</span></div><div class="pg" style="left:1095px;top:195px;width:95px"></div><div class="pb" style="left:1096px;top:196px;width:94px"><div class="pf" style="width:75.4px"></div><span class="pt">80.65%</span></div><div class="pg" style="left:1283px;top:195px;width:104px"></div><div class="pb" style="left:1284px;top:196px;width:103px"><div class="pf" style="width:19.5px"></div><span class="pt">20.46%</span></div><div class="pg" style="left:1464px;top:195px;width:88px"></div><div class="pb" style="left:1465px;top:196px;width:87px"><div class="pf" style="width:1.6px"></div><span class="pt">4.09%</span></div><div class="pg" style="left:1660px;top:195px;width:115px"></div><div class="pb" style="left:1661px;top:196px;width:114px"><div class="pf" style="width:0.0px"></div><span class="pt">1.36%</span></div><div class="pg" style="left:393px;top:227px;width:93px"></div><div class="pb" style="left:394px;top:228px;width:92px"><div class="pf" style="width:9.1px"></div><span class="pt">11.86%</span></div><div class="pg" style="left:552px;top:227px;width:77px"></div><div class="pb" style="left:553px;top:228px;width:76px"><div class="pf" style="width:1.1px"></div><span class="pt">3.95%</span></div><div class="pg" style="left:725px;top:227px;width:107px"></div><div class="pb" style="left:726px;top:228px;width:106px"><div class="pf" style="width:0.0px"></div><span class="pt">1.19%</span></div><div class="pg" style="left:916px;top:227px;width:95px"></div><div class="pb" style="left:917px;top:228px;width:94px"><div class="pf" style="width:9.0px"></div><span class="pt">11.46%</span></div><div class="pg" style="left:1095px;top:227px;width:95px"></div><div class="pb" style="left:1096px;top:228px;width:94px"><div class="pf" style="width:66.7px"></div><span class="pt">71.54%</span></div><div class="pg" style="left:1283px;top:227px;width:104px"></div><div class="pb" style="left:1284px;top:228px;width:103px"><div class="pf" style="width:13.3px"></div><span class="pt">14.58%</span></div><div class="pg" style="left:1464px;top:227px;width:88px"></div><div class="pb" style="left:1465px;top:228px;width:87px"><div class="pf" style="width:2.3px"></div><span class="pt">4.86%</span></div><div class="pg" style="left:1660px;top:227px;width:115px"></div><div class="pb" style="left:1661px;top:228px;width:114px"><div class="pf" style="width:0.0px"></div><span class="pt">1.06%</span></div>
<div style="left:0;top:0;width:1677px;height:1px;background:#d9d9d9"></div><div style="left:0;top:0;width:1px;height:295px;background:#d9d9d9"></div><div style="left:1px;top:1px;width:1px;height:294px;background:#fff"></div>
<svg style="left:4px;top:44px" width="8" height="15" viewBox="0 0 8 15"><path d="M0.3 0.8L7.4 7.5L0.3 14.2Z" fill="#000"/></svg>
</div>
</body></html>
